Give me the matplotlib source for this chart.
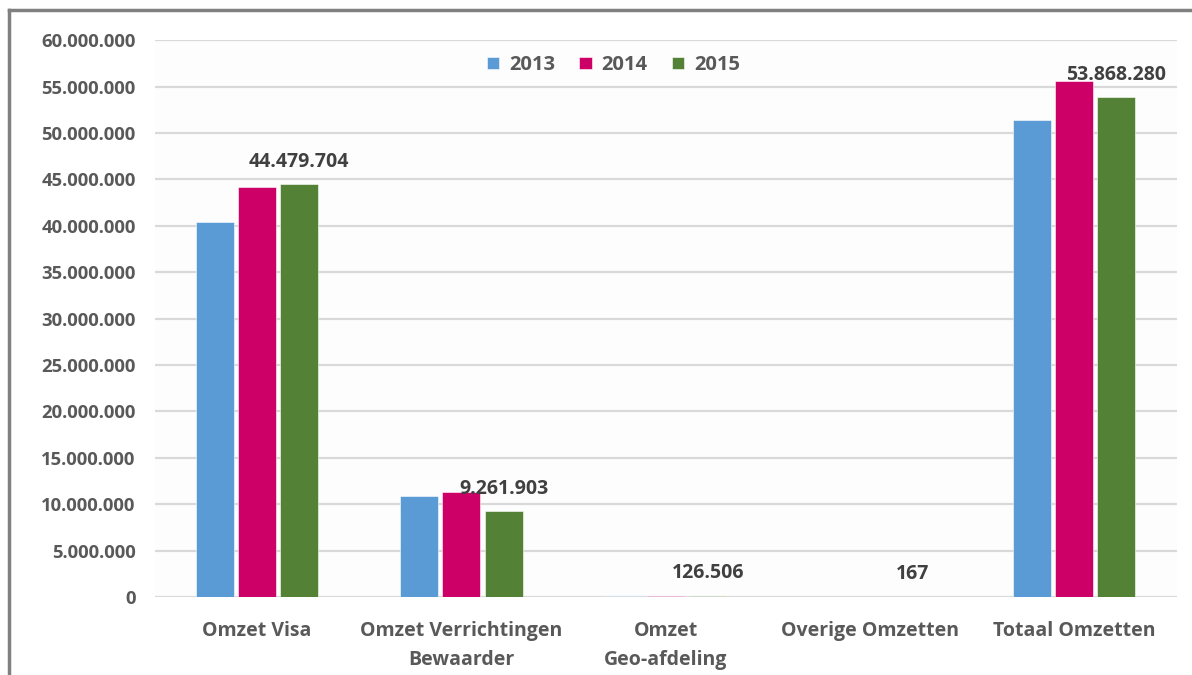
import matplotlib.pyplot as plt
import numpy as np
from matplotlib.ticker import FuncFormatter

categories = ["Omzet Visa", "Omzet Verrichtingen\nBewaarder", "Omzet\nGeo-afdeling",
              "Overige Omzetten", "Totaal Omzetten"]
years = ["2013", "2014", "2015"]
omzet_2013 = [40350000, 10900000, 120000, 500, 51370500]
omzet_2014 = [44150000, 11300000, 130000, 300, 55580300]
omzet_2015 = [44479704, 9261903, 126506, 167, 53868280]
colors = ["#5b9bd5", "#cc0066", "#538135"]

plt.rcParams["font.family"] = ["Open Sans", "DejaVu Sans"]

fig = plt.figure(figsize=(11.92, 6.75), dpi=100)
fig.patch.set_facecolor("white")
# grey frame on the left and top of the picture
fig.add_artist(plt.Line2D([0.0075, 0.0075], [0, 0.985], transform=fig.transFigure, color="#808080", lw=2.5))
fig.add_artist(plt.Line2D([0.0075, 1.0], [0.985, 0.985], transform=fig.transFigure, color="#808080", lw=2.5))

ax = fig.add_axes([0.130, 0.1156, 0.857, 0.825])
ax.set_facecolor("#fdfdfd")

x = np.arange(len(categories))
width = 0.186
step = 0.206
series = [omzet_2013, omzet_2014, omzet_2015]
for i, (vals, col, yr) in enumerate(zip(series, colors, years)):
    ax.bar(x + (i - 1) * step, vals, width, color=col, label=yr, zorder=3,
           edgecolor="white", linewidth=0.4)

# value labels on the 2015 bars
for xi, v in zip(x + step, omzet_2015):
    ax.annotate(f"{v:,}".replace(",", "."), (xi, v), xytext=(0, 9), textcoords="offset points",
                ha="center", va="bottom", fontsize=14, fontweight="bold", color="#404040")

ax.set_ylim(0, 60000000)
ax.set_xlim(-0.5, 4.5)
ax.set_yticks(np.arange(0, 60000001, 5000000))
ax.yaxis.set_major_formatter(FuncFormatter(lambda v, p: f"{int(v):,}".replace(",", ".")))
ax.set_xticks(x)
ax.set_xticklabels(categories, linespacing=1.6)
ax.tick_params(axis="both", length=0, colors="#595959")
ax.tick_params(axis="y", pad=14, labelsize=13.3)
ax.tick_params(axis="x", pad=17, labelsize=14)
for lab in ax.get_xticklabels() + ax.get_yticklabels():
    lab.set_fontweight("bold")
ax.grid(axis="y", color="#d9d9d9", lw=1.6, zorder=0)
for s in ax.spines.values():
    s.set_visible(False)

leg = ax.legend(loc="center", bbox_to_anchor=(0.449, 0.955), ncol=3, frameon=False,
                handlelength=0.6, handleheight=0.6, handletextpad=0.5, columnspacing=1.2,
                prop={"weight": "bold", "size": 14.5})
for t in leg.get_texts():
    t.set_color("#595959")

fig.savefig("out.png", dpi=100, facecolor="white")
